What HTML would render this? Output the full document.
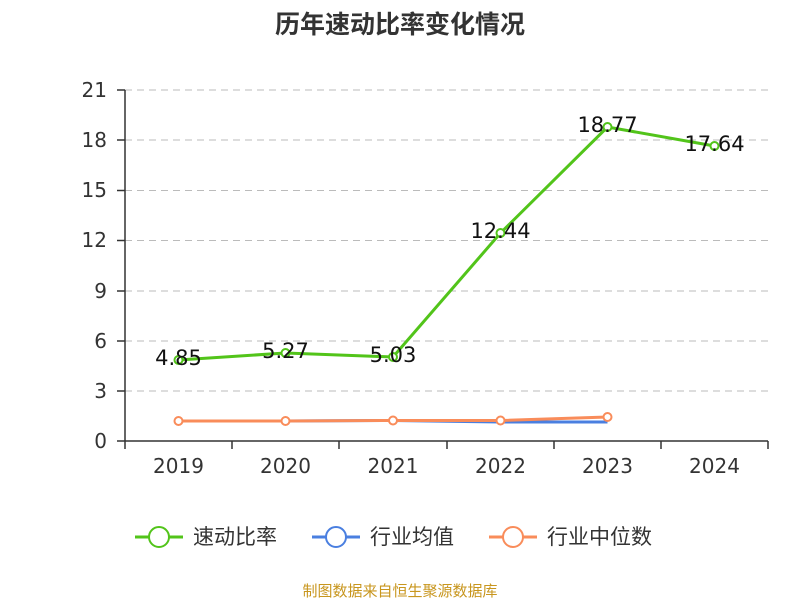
<!DOCTYPE html>
<html><head><meta charset="utf-8"><style>
body{margin:0;background:#fff;}
svg text{font-family:"DejaVu Sans","Noto Sans CJK SC",sans-serif;}
</style></head><body>
<svg width="800" height="600" xmlns="http://www.w3.org/2000/svg">
<text x="400" y="33" text-anchor="middle" font-size="25" font-weight="bold" fill="#333" style="font-family:'Noto Sans CJK SC',sans-serif">历年速动比率变化情况</text>
<g stroke="#bbb" stroke-dasharray="7,5" stroke-width="1">
<line x1="125" x2="768" y1="90" y2="90"/><line x1="125" x2="768" y1="140" y2="140"/>
<line x1="125" x2="768" y1="190.5" y2="190.5"/><line x1="125" x2="768" y1="240.5" y2="240.5"/>
<line x1="125" x2="768" y1="291" y2="291"/><line x1="125" x2="768" y1="341" y2="341"/>
<line x1="125" x2="768" y1="391" y2="391"/>
</g>
<g stroke="#333" stroke-width="1.5">
<line x1="125" x2="125" y1="90" y2="441"/>
<line x1="125" x2="768" y1="441" y2="441"/>
<line x1="117" x2="125" y1="90" y2="90"/><line x1="117" x2="125" y1="140" y2="140"/>
<line x1="117" x2="125" y1="190.5" y2="190.5"/><line x1="117" x2="125" y1="240.5" y2="240.5"/>
<line x1="117" x2="125" y1="291" y2="291"/><line x1="117" x2="125" y1="341" y2="341"/>
<line x1="117" x2="125" y1="391" y2="391"/><line x1="117" x2="125" y1="441" y2="441"/>
<line x1="125" x2="125" y1="441" y2="449"/><line x1="232" x2="232" y1="441" y2="449"/>
<line x1="339" x2="339" y1="441" y2="449"/><line x1="447" x2="447" y1="441" y2="449"/>
<line x1="554" x2="554" y1="441" y2="449"/><line x1="661" x2="661" y1="441" y2="449"/>
<line x1="768" x2="768" y1="441" y2="449"/>
</g>
<g font-size="20" fill="#333" text-anchor="end">
<text x="107" y="97">21</text><text x="107" y="147">18</text><text x="107" y="197">15</text>
<text x="107" y="247">12</text><text x="107" y="298">9</text><text x="107" y="348">6</text>
<text x="107" y="398">3</text><text x="107" y="448">0</text>
</g>
<g font-size="20" fill="#333" text-anchor="middle">
<text x="178.5" y="473">2019</text><text x="285.5" y="473">2020</text><text x="393" y="473">2021</text>
<text x="500.5" y="473">2022</text><text x="607.5" y="473">2023</text><text x="714.5" y="473">2024</text>
</g>
<polyline points="178.5,421 285.5,421 393,420.5 500.5,422 607.5,422" fill="none" stroke="#4a7fe0" stroke-width="3"/>
<polyline points="178.5,421 285.5,421 393,420.5 500.5,420.5 607.5,417" fill="none" stroke="#f98c5a" stroke-width="3"/>
<g fill="#fff" stroke="#f98c5a" stroke-width="2">
<circle cx="178.5" cy="421" r="4"/><circle cx="285.5" cy="421" r="4"/><circle cx="393" cy="420.5" r="4"/>
<circle cx="500.5" cy="420.5" r="4"/><circle cx="607.5" cy="417" r="4"/>
</g>
<polyline points="178.5,360 285.5,353 393,357 500.5,233 607.5,127 714.5,146" fill="none" stroke="#52c41a" stroke-width="3"/>
<g fill="#fff" stroke="#52c41a" stroke-width="2">
<circle cx="178.5" cy="360" r="4"/><circle cx="285.5" cy="353" r="4"/><circle cx="393" cy="357" r="4"/>
<circle cx="500.5" cy="233" r="4"/><circle cx="607.5" cy="127" r="4"/><circle cx="714.5" cy="146" r="4"/>
</g>
<g font-size="21" fill="#111" text-anchor="middle">
<text x="178.5" y="365">4.85</text><text x="285.5" y="358">5.27</text><text x="393" y="362">5.03</text>
<text x="500.5" y="238">12.44</text><text x="607.5" y="132">18.77</text><text x="714.5" y="151">17.64</text>
</g>
<g font-size="21" fill="#333">
<line x1="135" x2="183" y1="537" y2="537" stroke="#52c41a" stroke-width="3"/>
<circle cx="159" cy="537" r="10" fill="#fff" stroke="#52c41a" stroke-width="2"/>
<text x="193" y="544" style="font-family:'Noto Sans CJK SC',sans-serif">速动比率</text>
<line x1="312" x2="360" y1="537" y2="537" stroke="#4a7fe0" stroke-width="3"/>
<circle cx="336" cy="537" r="10" fill="#fff" stroke="#4a7fe0" stroke-width="2"/>
<text x="370" y="544" style="font-family:'Noto Sans CJK SC',sans-serif">行业均值</text>
<line x1="489" x2="537" y1="537" y2="537" stroke="#f98c5a" stroke-width="3"/>
<circle cx="513" cy="537" r="10" fill="#fff" stroke="#f98c5a" stroke-width="2"/>
<text x="547" y="544" style="font-family:'Noto Sans CJK SC',sans-serif">行业中位数</text>
</g>
<text x="400" y="596" text-anchor="middle" font-size="15" fill="#c8961e" style="font-family:'Noto Sans CJK SC',sans-serif">制图数据来自恒生聚源数据库</text>
</svg>
</body></html>
